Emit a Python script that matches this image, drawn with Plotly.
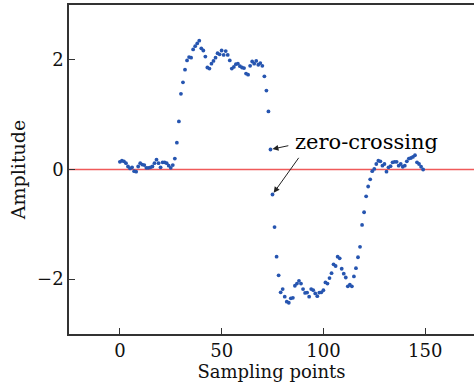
import plotly.graph_objects as go

sample_index = list(range(150))
amplitude = [
    0.14, 0.16, 0.15, 0.115, 0.055, 0.02, 0.04, -0.03, -0.04, 0.055,
    0.115, 0.09, 0.08, 0.03, 0.03, 0.04, 0.055, 0.115, 0.18, 0.115,
    0.04, 0.13, 0.13, 0.115, 0.07, 0.03, 0.08, 0.2, 0.49, 0.876,
    1.38, 1.59, 1.82, 1.99, 2.05, 2.04, 2.19, 2.25, 2.30, 2.35,
    2.21, 2.17, 2.06, 1.86, 1.84, 1.93, 1.98, 2.04, 2.12, 2.10,
    2.17, 2.09, 2.16, 2.09, 1.99, 1.84, 1.87, 1.92, 1.93, 1.885,
    1.86, 1.85, 1.75, 1.73, 1.89, 1.97, 1.93, 1.98, 1.91, 1.94,
    1.89, 1.70, 1.44, 1.06, 0.365, -0.456, -1.05, -1.59, -1.93, -2.24,
    -2.18, -2.32, -2.41, -2.43, -2.35, -2.34, -2.12, -2.08, -2.03, -2.08,
    -2.18, -2.25, -2.245, -2.32, -2.18, -2.20, -2.26, -2.31, -2.245, -2.24,
    -2.20, -2.06, -2.08, -1.98, -1.89, -1.73, -1.76, -1.59, -1.62, -1.81,
    -1.90, -1.97, -2.13, -2.10, -2.13, -1.95, -1.80, -1.60, -1.41, -1.01,
    -0.78, -0.49, -0.31, -0.18, -0.03, 0.01, 0.10, 0.16, 0.15, 0.07,
    0.10, -0.04, 0.04, 0.06, 0.13, 0.14, 0.14, 0.07, 0.10, 0.05,
    0.07, 0.15, 0.20, 0.21, 0.23, 0.26, 0.13, 0.10, 0.05, 0.0,
]
x_ticks = [0, 50, 100, 150]
y_ticks = [-2, 0, 2]
x_range = [-25, 174]
y_range = [-3, 3]
crossing_points = [74, 75]
annotation_text = "zero-crossing"

FONT = "DejaVu Serif"

fig = go.Figure()
fig.add_trace(go.Scatter(
    x=x_range, y=[0, 0], mode="lines",
    line=dict(color="#f05a5a", width=1.3), hoverinfo="skip", showlegend=False,
))
fig.add_trace(go.Scatter(
    x=sample_index, y=amplitude, mode="markers",
    marker=dict(color="#2655b0", size=3.8), showlegend=False,
))

# text label
fig.add_annotation(x=85, y=0.51, xref="x", yref="y", text=annotation_text,
                   showarrow=False, xanchor="left", yanchor="middle",
                   font=dict(family=FONT, size=21, color="#000"))
tails = [(83.5, 0.44), (88.4, 0.24)]
for idx, (tx, ty) in zip(crossing_points, tails):
    fig.add_annotation(x=sample_index[idx], y=amplitude[idx], xref="x", yref="y",
                       ax=tx, ay=ty, axref="x", ayref="y", text="",
                       showarrow=True, arrowhead=2, arrowsize=1.2, arrowwidth=1,
                       arrowcolor="#222", standoff=2)

fig.update_layout(
    width=474, height=390,
    margin=dict(l=69, r=0, t=5, b=56),
    paper_bgcolor="white", plot_bgcolor="white",
    font=dict(family=FONT, size=18, color="#111"),
)
fig.update_xaxes(
    range=x_range, tickvals=x_ticks, ticks="inside", ticklen=6, tickwidth=1.2,
    tickcolor="#333", showline=True, linecolor="#333", linewidth=1.5, mirror=True,
    showgrid=False, zeroline=False,
    title=dict(text="Sampling points", standoff=3, font=dict(family=FONT, size=18)),
)
fig.update_yaxes(
    range=y_range, tickvals=y_ticks, ticktext=["\u22122", "0", "2"],
    ticks="inside", ticklen=6, tickwidth=1.2,
    tickcolor="#333", showline=True, linecolor="#333", linewidth=1.5, mirror=False,
    showgrid=False, zeroline=False,
    title=dict(text="Amplitude", standoff=6, font=dict(family=FONT, size=19)),
)

fig.write_html("out.html")
